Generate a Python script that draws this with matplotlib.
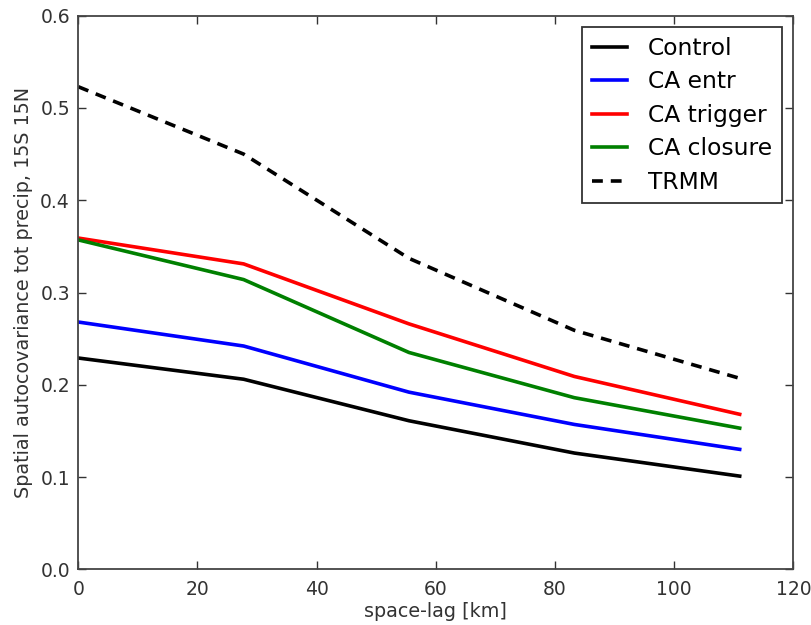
import matplotlib
matplotlib.use("Agg")
import matplotlib.pyplot as plt

lag = [0, 27.75, 55.5, 83.25, 111.0]
control = [0.229, 0.206, 0.161, 0.126, 0.101]
ca_entr = [0.268, 0.242, 0.192, 0.157, 0.130]
ca_trigger = [0.359, 0.331, 0.266, 0.209, 0.168]
ca_closure = [0.357, 0.314, 0.235, 0.186, 0.153]
trmm = [0.523, 0.450, 0.337, 0.259, 0.207]

plt.rcParams["font.family"] = "DejaVu Sans"

fig = plt.figure(figsize=(8.12, 6.25), dpi=100)
ax = fig.add_axes([0.0964, 0.0891, 0.8806, 0.8858])

lw = 2.6
ax.plot(lag, control, color="black", lw=lw, label="Control")
ax.plot(lag, ca_entr, color="#0000ff", lw=lw, label="CA entr")
ax.plot(lag, ca_trigger, color="#ff0000", lw=lw, label="CA trigger")
ax.plot(lag, ca_closure, color="#008000", lw=lw, label="CA closure")
ax.plot(lag, trmm, color="black", lw=lw, ls=(0, (3, 2.2)), label="TRMM")

ax.set_xlim(0, 120)
ax.set_ylim(0, 0.6)
ax.set_xticks([0, 20, 40, 60, 80, 100, 120])
ax.set_yticks([0.0, 0.1, 0.2, 0.3, 0.4, 0.5, 0.6])
ax.set_yticklabels(["0.0", "0.1", "0.2", "0.3", "0.4", "0.5", "0.6"])
ax.tick_params(direction="in", top=True, right=True, length=6, width=1,
               labelsize=13.5, colors="#333333")
ax.tick_params(axis="x", pad=8)
ax.tick_params(axis="y", pad=6)
for s in ax.spines.values():
    s.set_linewidth(1.3)
    s.set_color("#444444")

ax.set_xlabel("space-lag [km]", fontsize=13.8, color="#333333", labelpad=2)
ax.set_ylabel("Spatial autocovariance tot precip, 15S 15N", fontsize=13.8,
              color="#333333", labelpad=5)

leg = ax.legend(loc="upper right", fontsize=16.8, fancybox=False,
                edgecolor="#333333", framealpha=1, handlelength=1.5,
                labelspacing=0.45, borderpad=0.42, handletextpad=0.9,
                borderaxespad=0.48)
leg.get_frame().set_linewidth(1.3)

fig.savefig("out.png", dpi=100)
